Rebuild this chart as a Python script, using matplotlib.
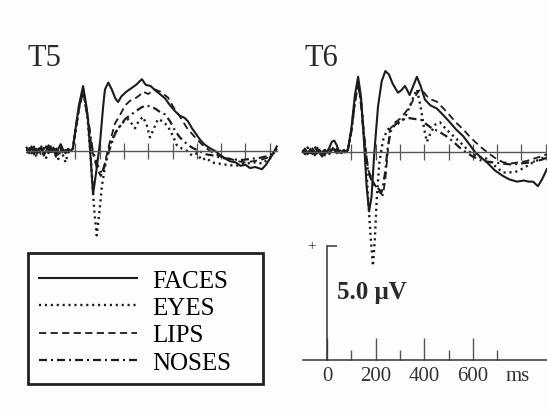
import matplotlib
matplotlib.use("Agg")
import matplotlib.pyplot as plt
from matplotlib.patches import Rectangle

# ---------------- data (ms, microvolts) ----------------
PRE_T = [-100, -90, -80, -70, -60, -50, -40, -30, -20, -10, 0, 10, 20, 30, 40, 50, 60, 70, 80]

# T5 ---------------------------------------------------------------
t5_faces_pre = [0.15, -0.1, 0.2, -0.15, 0.1, -0.05, 0.2, -0.2, 0.0, 0.25, -0.05, 0.15, -0.25, 0.1, 0.3, 0.05, -0.1, 0.1, 0.0]
t5_faces_t = [90, 100, 115, 132, 145, 152, 160, 173, 185, 202, 215, 222, 236, 250, 265, 276, 290, 310, 330, 350, 374, 390, 410, 430, 448,
              470, 490, 510, 530, 550, 564, 580, 600, 613, 630, 650, 675, 700, 720, 737, 760, 780, 800, 819, 840, 868, 885, 900, 915, 929]
t5_faces_v = [0.1, 0.9, 2.0, 2.85, 2.0, 1.4, 0.2, -1.9, -1.0, 0.4, 2.0, 2.7, 3.0, 2.7, 2.3, 2.15, 2.4, 2.6, 2.75, 2.9, 3.15, 2.9, 2.85, 2.65, 2.5,
              2.3, 2.0, 1.75, 1.55, 1.45, 1.3, 1.0, 0.7, 0.5, 0.3, 0.15, 0.0, -0.2, -0.35, -0.45, -0.5, -0.65, -0.6, -0.75, -0.7, -0.8, -0.6, -0.35, -0.1, 0.2]

t5_eyes_pre = [0.0, 0.2, -0.1, 0.1, -0.25, 0.15, -0.05, 0.1, -0.3, 0.0, 0.2, -0.15, 0.05, -0.35, 0.1, -0.2, -0.5, -0.1, 0.05]
t5_eyes_t = [90, 100, 115, 132, 150, 165, 178, 188, 198, 210, 222, 235, 251, 265, 284, 300, 317, 332, 346, 360, 379, 395, 407, 420, 440,
             460, 480, 500, 518, 540, 560, 580, 600, 620, 640, 660, 690, 720, 760, 800, 840, 870, 900, 930]
t5_eyes_v = [0.1, 0.8, 1.9, 2.7, 1.5, -0.5, -2.6, -3.7, -2.8, -1.5, -0.7, 0.0, 0.5, 0.8, 1.1, 1.3, 1.4, 1.2, 1.0, 1.3, 1.5, 1.1, 0.6, 0.9, 1.4,
             1.3, 1.1, 0.7, 0.25, 0.1, 0.0, -0.2, -0.1, -0.4, -0.3, -0.5, -0.55, -0.6, -0.65, -0.55, -0.5, -0.55, -0.3, 0.1]

t5_lips_pre = [-0.1, 0.1, 0.0, 0.2, -0.1, 0.05, -0.2, 0.15, 0.0, -0.1, 0.1, 0.2, -0.1, 0.0, 0.15, -0.15, 0.05, 0.0, 0.1]
t5_lips_t = [90, 100, 115, 132, 150, 170, 190, 205, 220, 240, 263, 285, 305, 325, 346, 365, 379, 400, 428, 450, 481, 505, 531, 560,
             593, 620, 654, 680, 710, 740, 770, 800, 830, 860, 890, 915, 930]
t5_lips_v = [0.1, 0.8, 1.8, 2.6, 1.5, 0.0, -0.8, -1.1, -0.6, 0.3, 1.2, 1.6, 2.0, 2.2, 2.3, 2.45, 2.6, 2.5, 2.7, 2.6, 2.35, 1.9, 1.5, 1.0,
             0.6, 0.3, 0.0, -0.15, -0.3, -0.35, -0.45, -0.5, -0.45, -0.4, -0.3, -0.1, 0.15]

t5_noses_pre = [0.1, -0.05, 0.15, 0.0, -0.15, 0.1, 0.0, -0.1, 0.2, 0.05, -0.1, 0.0, 0.15, -0.2, 0.0, 0.1, -0.05, 0.05, 0.0]
t5_noses_t = [90, 100, 115, 132, 150, 170, 190, 210, 225, 245, 265, 285, 305, 330, 350, 370, 390, 410, 430, 450, 470, 490, 510,
              530, 555, 580, 610, 640, 670, 700, 740, 780, 820, 860, 900, 930]
t5_noses_v = [0.1, 0.9, 1.9, 2.7, 1.6, 0.1, -0.6, -1.0, -0.5, 0.2, 0.8, 1.1, 1.4, 1.6, 1.75, 1.9, 2.0, 1.95, 1.85, 1.7, 1.6, 1.3, 0.9,
              0.6, 0.35, 0.15, 0.0, -0.15, -0.2, -0.3, -0.35, -0.4, -0.35, -0.3, -0.2, 0.1]

# T6 ---------------------------------------------------------------
t6_faces_pre = [0.0, 0.15, -0.1, 0.1, 0.05, -0.15, 0.1, -0.05, -0.2, 0.05, 0.0, 0.2, 0.45, 0.5, 0.3, 0.0, -0.05, 0.05, 0.0]
t6_faces_t = [86, 100, 115, 128, 140, 152, 163, 173, 183, 195, 210, 225, 240, 255, 270, 292, 305, 321, 340, 355, 370, 385, 403, 425,
              453, 480, 506, 530, 560, 585, 609, 635, 658, 690, 724, 750, 782, 810, 830, 848, 868, 885, 905]
t6_faces_v = [0.1, 1.0, 2.5, 3.3, 2.4, 0.5, -1.5, -2.6, -2.0, 0.0, 2.0, 3.1, 3.55, 3.4, 3.0, 2.6, 2.7, 2.9, 2.5, 2.9, 3.3, 2.9, 2.3, 2.05,
              1.9, 1.6, 1.3, 1.0, 0.7, 0.35, 0.0, -0.25, -0.45, -0.8, -1.05, -1.2, -1.3, -1.25, -1.3, -1.3, -1.5, -1.2, -0.75]

t6_eyes_pre = [0.1, -0.1, 0.2, 0.0, -0.1, 0.25, -0.05, 0.1, -0.15, 0.1, -0.1, 0.15, 0.0, 0.2, -0.1, 0.05, 0.1, -0.05, 0.0]
t6_eyes_t = [86, 100, 115, 128, 140, 155, 168, 180, 189, 197, 205, 215, 230, 245, 259, 280, 300, 320, 341, 355, 370, 385, 400, 411,
             425, 445, 465, 490, 510, 535, 560, 588, 620, 658, 690, 724, 750, 782, 810, 848, 880, 905]
t6_eyes_v = [0.1, 0.9, 2.3, 3.1, 2.3, 0.3, -1.8, -3.8, -5.0, -3.8, -2.0, -0.5, 0.5, 0.9, 1.1, 1.15, 1.3, 1.5, 2.0, 2.4, 2.75, 2.0, 1.0, 0.45,
             0.8, 1.2, 1.3, 1.0, 0.8, 0.55, 0.3, 0.0, -0.2, -0.3, -0.6, -0.9, -0.9, -0.85, -0.7, -0.45, -0.3, -0.2]

t6_lips_pre = [-0.05, 0.1, 0.0, 0.15, -0.1, 0.05, 0.2, -0.1, 0.0, 0.1, 0.05, -0.1, 0.1, 0.0, 0.15, -0.05, 0.0, 0.1, 0.0]
t6_lips_t = [86, 100, 115, 128, 140, 155, 170, 190, 210, 230, 240, 250, 259, 280, 300, 320, 341, 360, 383, 400, 411, 430, 453, 480,
             506, 530, 560, 585, 609, 635, 658, 690, 724, 760, 790, 820, 848, 880, 905]
t6_lips_v = [0.1, 0.9, 2.2, 3.0, 2.2, 0.5, -0.8, -1.3, -1.7, -1.9, -1.2, 0.0, 1.0, 1.3, 1.45, 1.7, 2.0, 2.4, 2.75, 2.6, 2.45, 2.3, 2.2, 1.9,
             1.6, 1.3, 1.0, 0.7, 0.45, 0.2, 0.0, -0.25, -0.45, -0.5, -0.45, -0.4, -0.3, -0.2, -0.1]

t6_noses_pre = [0.05, -0.1, 0.1, -0.05, 0.15, 0.0, -0.1, 0.1, 0.05, -0.15, 0.1, 0.0, 0.2, 0.1, -0.05, 0.1, 0.0, -0.05, 0.05]
t6_noses_t = [86, 100, 115, 128, 140, 155, 170, 190, 210, 225, 238, 250, 262, 280, 300, 330, 360, 390, 411, 430, 460, 490, 520, 545,
              570, 600, 640, 680, 720, 760, 800, 840, 880, 905]
t6_noses_v = [0.1, 0.9, 2.2, 3.0, 2.1, 0.4, -0.9, -1.4, -1.6, -1.75, -1.0, 0.2, 0.9, 1.2, 1.35, 1.5, 1.45, 1.4, 1.2, 1.05, 0.9, 0.7, 0.45, 0.2,
              0.0, -0.2, -0.4, -0.45, -0.5, -0.55, -0.5, -0.45, -0.35, -0.25]

CONDITIONS = ["FACES", "EYES", "LIPS", "NOSES"]
BASE_TICKS = [100, 200, 300, 400, 500, 600, 700, 800, 900]
SCALE_MAJOR = [0, 200, 400, 600]
SCALE_MINOR = [100, 300, 500, 700]
SCALE_UV = 5.0

# ---------------- styling / layout ----------------
W, H = 547, 410
PX_MS = 0.243   # pixels per ms
PX_UV = 22.8    # pixels per microvolt
INK = "#1c1c1c"
STYLES = {
    "FACES": dict(linestyle="-", linewidth=1.5),
    "EYES": dict(linestyle=(0, (0.9, 1.6)), linewidth=1.7),
    "LIPS": dict(linestyle=(0, (4.0, 2.4)), linewidth=1.3),
    "NOSES": dict(linestyle=(0, (3.6, 1.8, 0.9, 1.8)), linewidth=1.6),
}
SERIF = ["Liberation Serif", "DejaVu Serif"]

fig = plt.figure(figsize=(W / 100, H / 100), dpi=100)
fig.patch.set_facecolor("#fdfdfd")


def px_axes(left, top, right, bottom, x0, yb):
    ax = fig.add_axes([left / W, 1 - bottom / H, (right - left) / W, (bottom - top) / H])
    ax.set_xlim((left - x0) / PX_MS, (right - x0) / PX_MS)
    ax.set_ylim((yb - bottom) / PX_UV, (yb - top) / PX_UV)
    ax.patch.set_alpha(0)
    return ax


def panel(ax, series, end_ms, title, title_x):
    for s in ["top", "right", "left"]:
        ax.spines[s].set_visible(False)
    ax.spines["bottom"].set_position(("data", 0))
    ax.spines["bottom"].set_bounds(-100, end_ms)
    ax.spines["bottom"].set_color("#555555")
    ax.spines["bottom"].set_linewidth(1.0)
    ax.set_xticks(BASE_TICKS)
    ax.tick_params(axis="x", direction="inout", length=11, width=0.9, color="#555555", labelbottom=False)
    ax.set_yticks([])
    handles = []
    for name, (pre, t, v) in zip(CONDITIONS, series):
        h, = ax.plot(PRE_T + t, pre + v, color=INK, label=name, **STYLES[name])
        handles.append(h)
    ax.text(title_x, 1.0, title, transform=ax.get_xaxis_transform(), family=SERIF, fontsize=22,
            color="#2a2a2a", ha="left", va="top")
    return handles


ax5 = px_axes(20, 44, 282, 250, x0=51, yb=152)
handles = panel(ax5, [(t5_faces_pre, t5_faces_t, t5_faces_v), (t5_eyes_pre, t5_eyes_t, t5_eyes_v),
                      (t5_lips_pre, t5_lips_t, t5_lips_v), (t5_noses_pre, t5_noses_t, t5_noses_v)],
                930, "T5", -95)

ax6 = px_axes(296, 44, 547, 275, x0=327, yb=153)
panel(ax6, [(t6_faces_pre, t6_faces_t, t6_faces_v), (t6_eyes_pre, t6_eyes_t, t6_eyes_v),
            (t6_lips_pre, t6_lips_t, t6_lips_v), (t6_noses_pre, t6_noses_t, t6_noses_v)],
      905, "T6", -92)

# scale bar axes
axs = px_axes(296, 240, 547, 361, x0=327, yb=361)
axs.spines["top"].set_visible(False)
axs.spines["right"].set_visible(False)
axs.spines["left"].set_position(("data", 0))
axs.spines["left"].set_bounds(0, SCALE_UV)
axs.spines["bottom"].set_bounds(-100, 905)
for s in ["left", "bottom"]:
    axs.spines[s].set_color("#333333")
    axs.spines[s].set_linewidth(1.1)
axs.set_yticks([SCALE_UV])
axs.tick_params(axis="y", direction="in", length=7, width=1.1, color="#333333", labelleft=False)
axs.set_xticks(SCALE_MAJOR)
axs.set_xticks(SCALE_MINOR, minor=True)
axs.set_xticklabels([str(v) for v in SCALE_MAJOR], family=SERIF, fontsize=15, color="#333333")
axs.tick_params(axis="x", which="major", direction="in", length=16, width=1.0, color="#555555", pad=4)
axs.tick_params(axis="x", which="minor", direction="in", length=7, width=1.0, color="#555555")
axs.annotate("ms", xy=(786, 0), xycoords=("data", "axes fraction"), xytext=(0, -11.5), textcoords="offset points",
             family=SERIF, fontsize=15, color="#333333", ha="center", va="center")
axs.text(-62, SCALE_UV, "+", family=SERIF, fontsize=11, color="#333333", ha="center", va="center")
axs.text(40, 3.0, "5.0 \u03bcV", family=SERIF, fontsize=18, fontweight="bold", color="#2a2a2a",
         ha="left", va="center")

# legend
fig.patches.append(Rectangle((28 / W, 1 - 385 / H), (263 - 28) / W, (385 - 254) / H, transform=fig.transFigure,
                             fill=False, edgecolor="#222222", linewidth=2.0))
fig.legend(handles=handles, labels=CONDITIONS, loc="upper left", bbox_to_anchor=(34 / W, 1 - 265 / H),
           frameon=False, prop=dict(family=SERIF, size=18), handlelength=3.9, handletextpad=0.64,
           labelspacing=0.2, borderpad=0.2, borderaxespad=0)

fig.savefig("out.png", dpi=100, facecolor=fig.get_facecolor())
